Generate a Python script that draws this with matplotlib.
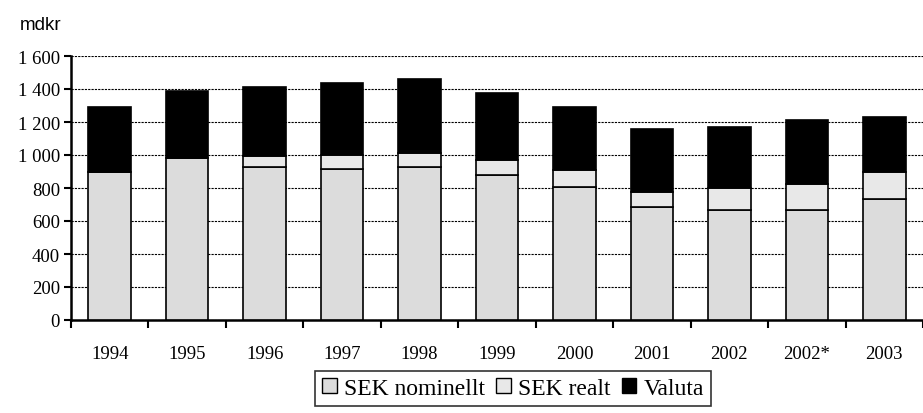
import matplotlib
matplotlib.use('Agg')
import matplotlib.pyplot as plt
from matplotlib.patches import Patch
import numpy as np

# ── Data (mdkr) ─────────────────────────────────────────
years = ['1994', '1995', '1996', '1997', '1998', '1999', '2000',
         '2001', '2002', '2002*', '2003']
sek_nominellt = [897, 982, 925, 913, 925, 877, 806, 683, 669, 669, 733]
sek_realt = [0, 0, 69, 89, 89, 93, 103, 91, 129, 153, 166]
valuta = [396, 408, 420, 434, 448, 408, 384, 386, 374, 388, 333]

yticks = [0, 200, 400, 600, 800, 1000, 1200, 1400, 1600]
ytick_labels = ['0', '200', '400', '600', '800', '1 000', '1 200', '1 400', '1 600']

# ── Plot ────────────────────────────────────────────────
serif = 'Liberation Serif'
fig = plt.figure(figsize=(9.23, 4.14), dpi=100)
ax = fig.add_axes([71 / 923, 93 / 414, 852 / 923, 264 / 414])

x = np.arange(len(years))
w = 0.55
nom = np.array(sek_nominellt)
real = np.array(sek_realt)
val = np.array(valuta)

ax.bar(x, nom, w, color='#dcdcdc', edgecolor='black', linewidth=1.2, zorder=3)
ax.bar(x, real, w, bottom=nom, color='#e8e8e8', edgecolor='black', linewidth=1.2, zorder=3)
ax.bar(x, val, w, bottom=nom + real, color='black', edgecolor='black', linewidth=1.2, zorder=3)

ax.set_ylim(0, 1600)
ax.set_xlim(-0.5, 10.5 - 8 / 78)
ax.set_yticks(yticks)
ax.set_yticklabels(ytick_labels, fontfamily=serif, fontsize=13.5)
ax.set_xticks(x)
ax.set_xticklabels(years, fontfamily=serif, fontsize=13.5)
ax.set_xticks(np.arange(-0.5, len(years), 1.0), minor=True)
ax.tick_params(axis='x', which='major', length=0, pad=18)
ax.tick_params(axis='x', which='minor', length=6, width=1.5, direction='out')
ax.tick_params(axis='y', length=5, width=1.5, direction='out', pad=3)

ax.grid(axis='y', color='black', linestyle=(0, (2, 1)), linewidth=0.8, zorder=0)
for s in ['top', 'right']:
    ax.spines[s].set_visible(False)
ax.spines['left'].set_linewidth(1.8)
ax.spines['bottom'].set_linewidth(1.8)
ax.set_axisbelow(True)

fig.text(20 / 923, 1 - 25 / 414, 'mdkr', fontfamily='Liberation Sans',
         fontsize=13.5, va='center', ha='left')

handles = [Patch(facecolor='#dcdcdc', edgecolor='black'),
           Patch(facecolor='#e8e8e8', edgecolor='black'),
           Patch(facecolor='black', edgecolor='black')]
leg = fig.legend(handles, ['SEK nominellt', 'SEK realt', 'Valuta'],
                 loc='upper center', bbox_to_anchor=(513 / 923, 1 - 372 / 414),
                 ncol=3, frameon=True, fancybox=False, edgecolor='black',
                 prop={'family': serif, 'size': 17},
                 handlelength=0.6, handleheight=0.6, handletextpad=0.3,
                 columnspacing=0.5, borderpad=0.3, borderaxespad=0)
leg.get_frame().set_linewidth(1.2)

plt.savefig('out.png', dpi=100)
plt.close()
